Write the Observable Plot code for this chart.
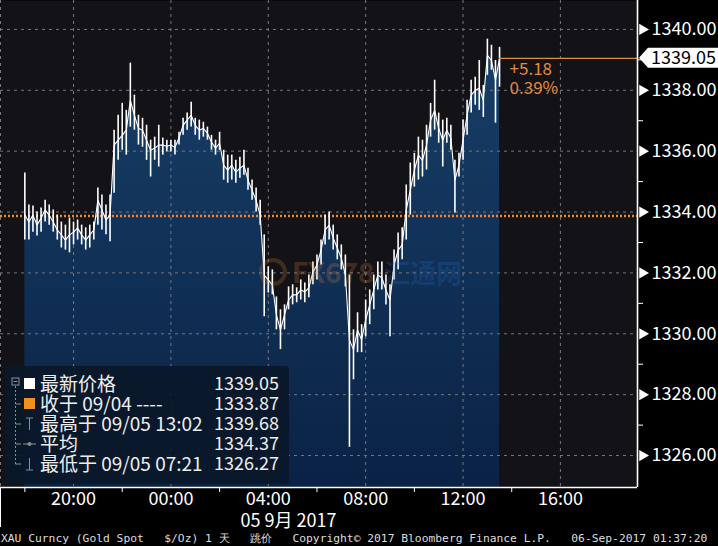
<!DOCTYPE html>
<html><head><meta charset="utf-8">
<script src="https://cdn.jsdelivr.net/npm/d3@7"></script>
<script src="https://cdn.jsdelivr.net/npm/@observablehq/plot@0.6"></script>
<style>html,body{margin:0;padding:0;background:#000;} svg{display:block}</style>
</head><body><div id="chart"></div>
<script>
// 10-minute bars starting 2017-09-04 18:00
const hi = [1335.28,1334.23,1334.20,1334.00,1334.13,1334.39,1334.23,1334.07,1333.90,1333.67,
1333.57,1333.80,1333.67,1333.74,1333.57,1333.48,1333.57,1333.67,1334.79,1334.56,
1334.23,1334.56,1336.69,1337.18,1337.57,1337.34,1338.89,1337.84,1337.18,1337.08,
1336.85,1336.36,1336.46,1336.85,1336.43,1336.36,1336.36,1336.36,1336.62,1337.08,
1337.25,1337.61,1337.08,1337.02,1336.95,1336.79,1336.52,1336.36,1336.62,1336.03,
1335.87,1335.87,1335.70,1335.80,1336.03,1335.44,1335.05,1334.79,1334.39,1333.25,
1332.20,1332.10,1331.21,1330.79,1330.95,1331.54,1331.61,1331.51,1331.77,1331.67,
1331.93,1332.36,1332.59,1333.08,1333.90,1334.00,1333.57,1333.25,1332.92,1332.59,
1331.93,1330.13,1330.69,1330.30,1331.11,1331.44,1331.93,1332.36,1332.36,1331.93,
1331.61,1332.75,1333.31,1333.48,1334.89,1335.61,1335.93,1336.46,1336.36,1336.85,
1337.57,1338.33,1337.25,1337.02,1337.08,1336.85,1335.70,1335.93,1337.02,1337.67,
1338.33,1338.43,1338.98,1338.16,1339.68,1339.48,1338.98,1339.41];
const lo = [1333.08,1333.08,1333.34,1333.21,1333.34,1333.67,1333.57,1333.34,1333.08,1332.82,
1332.75,1332.66,1332.92,1333.08,1332.92,1332.75,1332.82,1333.08,1333.57,1333.41,
1333.25,1333.02,1334.62,1335.70,1336.03,1335.87,1336.79,1336.69,1336.20,1336.13,
1335.70,1335.15,1335.70,1335.48,1335.87,1335.97,1335.97,1335.87,1336.20,1336.52,
1336.69,1336.79,1336.52,1336.36,1336.46,1336.36,1336.03,1335.87,1336.03,1335.05,
1334.95,1335.05,1334.95,1335.11,1335.21,1334.72,1334.39,1334.00,1333.57,1330.56,
1331.34,1331.28,1330.13,1329.48,1330.13,1330.79,1330.95,1331.02,1331.11,1331.02,
1331.18,1331.61,1331.77,1332.26,1332.92,1333.08,1332.75,1332.43,1332.10,1331.54,
1326.27,1328.49,1329.38,1329.38,1329.90,1330.30,1330.79,1331.44,1331.44,1330.95,
1329.90,1331.77,1332.10,1332.43,1333.08,1333.90,1334.82,1335.05,1335.15,1335.38,
1336.46,1336.69,1336.26,1335.48,1336.26,1336.03,1333.97,1335.15,1335.70,1336.52,
1337.25,1337.51,1337.34,1337.11,1338.49,1338.66,1336.92,1338.10];
const close = [1333.90,1333.67,1333.90,1333.57,1333.80,1334.07,1333.90,1333.67,1333.41,1333.25,
1333.08,1333.25,1333.34,1333.48,1333.25,1333.08,1333.25,1333.41,1334.39,1334.07,
1333.74,1333.90,1336.20,1336.36,1336.52,1336.69,1337.67,1337.18,1336.75,1336.69,
1336.36,1336.03,1336.10,1336.20,1336.20,1336.16,1336.20,1336.13,1336.43,1336.85,
1337.02,1337.18,1336.85,1336.69,1336.75,1336.59,1336.30,1336.10,1336.26,1335.54,
1335.38,1335.54,1335.31,1335.44,1335.54,1335.05,1334.72,1334.39,1333.90,1331.93,
1331.77,1331.61,1330.62,1330.13,1330.62,1331.11,1331.28,1331.28,1331.44,1331.38,
1331.51,1332.03,1332.26,1332.75,1333.41,1333.57,1333.15,1332.82,1332.49,1331.93,
1329.80,1329.48,1330.13,1329.80,1330.46,1330.95,1331.44,1331.93,1331.84,1331.44,
1331.11,1332.26,1332.75,1332.92,1334.07,1334.72,1335.38,1335.87,1335.70,1336.20,
1337.02,1337.34,1336.75,1336.36,1336.69,1336.43,1335.05,1335.54,1336.36,1337.18,
1337.84,1338.00,1338.07,1337.67,1339.15,1338.98,1338.33,1339.05];

const startTime = Date.UTC(2017, 8, 4, 18, 0);
const stepMinutes = 10;
const prevClose = 1333.87;
const lastPrice = 1339.05;
const changeAbs = "+5.18";
const changePct = "0.39%";
const yTicks = [1326, 1328, 1330, 1332, 1334, 1336, 1338, 1340];
const yMinor = [1327, 1329, 1331, 1333, 1335, 1337, 1339];
const xLabelTimes = [Date.UTC(2017,8,4,20), Date.UTC(2017,8,5,0), Date.UTC(2017,8,5,4), Date.UTC(2017,8,5,8), Date.UTC(2017,8,5,12), Date.UTC(2017,8,5,16)].map(d => new Date(d));
const xTickTimes = [Date.UTC(2017,8,4,18), Date.UTC(2017,8,4,22), Date.UTC(2017,8,5,2), Date.UTC(2017,8,5,6), Date.UTC(2017,8,5,10), Date.UTC(2017,8,5,14)].map(d => new Date(d));
const dateLabel = "05 9月 2017";
const dateLabelTime = new Date(Date.UTC(2017,8,5,4,50));
const legendLabels = ["最新价格", "收于 09/04 ----", "最高于 09/05 13:02", "平均", "最低于 09/05 07:21"];
const legendValues = ["1339.05", "1333.87", "1339.68", "1334.37", "1326.27"];
const footerText = "XAU Curncy (Gold Spot   $/Oz) 1 天   跳价   Copyright© 2017 Bloomberg Finance L.P.   06-Sep-2017 01:37:20";

const data = hi.map((h, i) => ({t: new Date(startTime + i * stepMinutes * 60000), hi: h, lo: lo[i], close: close[i]}));
const lastT = data[data.length - 1].t;
const xDomain = [new Date(Date.UTC(2017,8,4,17,0)), new Date(Date.UTC(2017,8,5,19,10))];
const yDomain = [1324.95, 1340.95];
const font = "'Noto Sans CJK SC','Noto Sans',sans-serif";
const orange = "#e38a3c";
const gridStyle = {stroke: "#77777f", strokeDasharray: "3,4", strokeWidth: 1};

const plot = Plot.plot({
  width: 718, height: 546,
  marginLeft: 0, marginRight: 81, marginTop: 0, marginBottom: 59,
  style: {background: "#000", color: "#fff", fontFamily: font, fontSize: "18px", overflow: "visible"},
  x: {type: "utc", domain: xDomain, axis: null, label: null},
  y: {domain: yDomain, axis: null, label: null},
  marks: [
    Plot.frame({fill: "#131217", stroke: "none"}),
    Plot.areaY(data, {x: "t", y1: () => yDomain[0], y2: "close", fill: "url(#areaGrad)"}),
    Plot.ruleY(yTicks, gridStyle),
    Plot.ruleX([xDomain[0], ...xLabelTimes], gridStyle),
    Plot.ruleY([prevClose], {stroke: orange, strokeWidth: 2.4, strokeDasharray: "2,2"}),
    Plot.ruleX(data, {x: "t", y1: "lo", y2: "hi", stroke: "#fff", strokeWidth: 1.6}),
    Plot.lineY(data, {x: "t", y: "close", stroke: "#fff", strokeWidth: 1.1}),
    Plot.ruleY([lastPrice], {x1: () => lastT, x2: () => xDomain[1], stroke: orange, strokeWidth: 1.3}),
    Plot.text([changeAbs], {x: () => lastT, y: () => lastPrice, text: d => d, dx: 10, dy: 11, textAnchor: "start", fill: orange, fontSize: 17}),
    Plot.text([changePct], {x: () => lastT, y: () => lastPrice, text: d => d, dx: 10, dy: 30, textAnchor: "start", fill: orange, fontSize: 17}),
    Plot.ruleX([xDomain[1]], {stroke: "#fff", strokeWidth: 1.6}),
    Plot.ruleY([yDomain[0]], {stroke: "#fff", strokeWidth: 1.6}),
    Plot.axisY(yTicks, {anchor: "right", label: null, tickSize: 0, tickPadding: 14, tickFormat: d => d.toFixed(2), fontSize: 18}),
    Plot.axisY(yMinor, {anchor: "right", label: null, tickSize: 5, tickFormat: () => ""}),
    Plot.dot(yTicks, {x: () => xDomain[1], y: d => d, symbol: "triangle", r: 4.2, fill: "#fff", rotate: 90, dx: 5}),
    Plot.axisX(xLabelTimes, {anchor: "bottom", label: null, tickSize: 0, tickPadding: 5, tickFormat: d3.utcFormat("%H:%M"), fontSize: 18}),
    Plot.axisX(xTickTimes, {anchor: "bottom", label: null, tickSize: 5, tickFormat: () => ""}),
    Plot.text([dateLabel], {x: () => dateLabelTime, y: () => yDomain[0], text: d => d, dy: 34, fontSize: 18, fill: "#fff"})
  ]
});
document.getElementById("chart").appendChild(plot);

const svg = d3.select(plot);
svg.insert("defs", ":first-child").html(
  `<linearGradient id="areaGrad" x1="0" y1="0" x2="0" y2="1"><stop offset="0" stop-color="#173e66"/><stop offset="1" stop-color="#0a2245"/></linearGradient>`);

// last price tag
const ys = plot.scale("y");
const py = ys.apply(lastPrice);
svg.append("path").attr("d", `M639,${py} L648,${py-10} L718,${py-10} L718,${py+10} L648,${py+10} Z`).attr("fill", "#fff");
svg.append("text").attr("x", 651).attr("y", py).attr("dy", "0.36em").attr("fill", "#000").attr("text-anchor", "start")
  .attr("font-family", font).attr("font-size", 18).text(lastPrice.toFixed(2));

// left date separator
svg.append("line").attr("x1", 0.5).attr("x2", 0.5).attr("y1", 487).attr("y2", 527).attr("stroke", "#fff");

// watermark
const wm = svg.append("g").attr("font-family", font).attr("font-weight", "bold").attr("opacity", 0.22).attr("text-anchor", "start");
wm.append("circle").attr("cx", 273).attr("cy", 272).attr("r", 12).attr("fill", "none").attr("stroke", orange).attr("stroke-width", 4);
wm.append("text").attr("x", 292).attr("y", 283).attr("font-size", 28).attr("fill", orange).text("FX678");
wm.append("text").attr("x", 384).attr("y", 283).attr("font-size", 26).attr("fill", "#2a6fd0").text("汇通网");

// legend
const lg = svg.append("g").attr("font-family", font).attr("text-anchor", "start");
lg.append("rect").attr("x", 5).attr("y", 366).attr("width", 284).attr("height", 118).attr("rx", 4)
  .attr("fill", "#0a1829").attr("fill-opacity", 0.93);
const gray = "#8a8f98";
lg.append("rect").attr("x", 12).attr("y", 378).attr("width", 7).attr("height", 7).attr("fill", "none").attr("stroke", gray);
lg.append("line").attr("x1", 13.5).attr("x2", 17.5).attr("y1", 381.5).attr("y2", 381.5).attr("stroke", gray);
lg.append("line").attr("x1", 15.5).attr("x2", 15.5).attr("y1", 386).attr("y2", 465).attr("stroke", gray).attr("stroke-dasharray", "2,2");
legendLabels.forEach((lab, i) => {
  const cy = 384 + i * 20;
  if (i > 0) lg.append("line").attr("x1", 15.5).attr("x2", 21).attr("y1", cy).attr("y2", cy).attr("stroke", gray);
  if (i === 0) lg.append("rect").attr("x", 24).attr("y", cy - 6).attr("width", 11).attr("height", 11).attr("fill", "#fff");
  if (i === 1) lg.append("rect").attr("x", 24).attr("y", cy - 6).attr("width", 11).attr("height", 11).attr("fill", "#f0901e");
  if (i === 2) { lg.append("line").attr("x1", 29.5).attr("x2", 29.5).attr("y1", cy - 6).attr("y2", cy + 6).attr("stroke", gray);
                 lg.append("line").attr("x1", 26).attr("x2", 33).attr("y1", cy - 6).attr("y2", cy - 6).attr("stroke", gray); }
  if (i === 3) { lg.append("line").attr("x1", 23).attr("x2", 36).attr("y1", cy).attr("y2", cy).attr("stroke", gray);
                 lg.append("circle").attr("cx", 29.5).attr("cy", cy).attr("r", 2).attr("fill", gray); }
  if (i === 4) { lg.append("line").attr("x1", 29.5).attr("x2", 29.5).attr("y1", cy - 6).attr("y2", cy + 6).attr("stroke", gray);
                 lg.append("line").attr("x1", 26).attr("x2", 33).attr("y1", cy + 6).attr("y2", cy + 6).attr("stroke", gray); }
  lg.append("text").attr("x", 40).attr("y", cy).attr("dy", "0.36em").attr("font-size", 19).attr("fill", "#eee")
    .attr("text-anchor", "start").text(lab);
  lg.append("text").attr("x", 279).attr("y", cy).attr("dy", "0.36em").attr("font-size", 18).attr("fill", "#eee")
    .attr("text-anchor", "end").text(legendValues[i]);
});

// footer
svg.append("text").attr("x", 1).attr("y", 542).attr("text-anchor", "start")
  .attr("font-family", "'DejaVu Sans Mono','Liberation Mono',monospace")
  .attr("font-size", 11.3).attr("fill", "#ddd")
  .text(footerText);
</script>
</body></html>
